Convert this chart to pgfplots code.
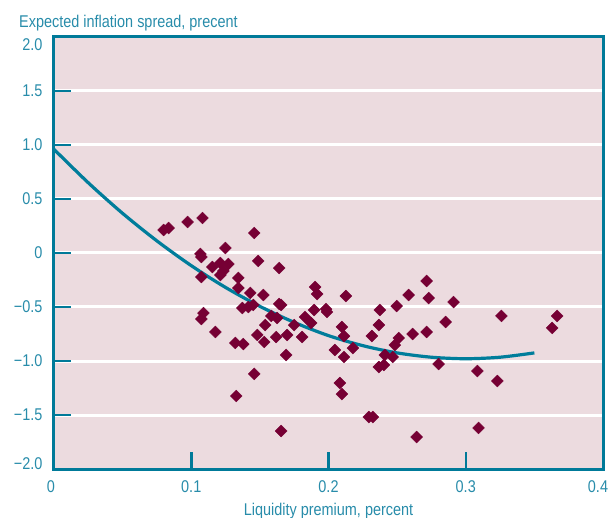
\documentclass[border=0pt]{standalone}
\usepackage{fontspec}
\setmainfont{Liberation Sans}[FakeStretch=0.85]
\usepackage{pgfplots}
\pgfplotsset{compat=1.18}
\definecolor{axisc}{RGB}{0,122,153}
\definecolor{textc}{RGB}{40,140,170}
\definecolor{curvec}{RGB}{0,125,155}
\definecolor{markc}{RGB}{118,0,52}
\definecolor{bgc}{RGB}{236,219,223}
\begin{document}
\begin{tikzpicture}
\begin{axis}[
  name=ax,
  scale only axis,
  width=549bp, height=432bp,
  xmin=0, xmax=0.4, ymin=-2, ymax=2,
  axis background/.style={fill=bgc},
  axis line style={line width=3bp, axisc},
  xtick={0,0.1,0.2,0.3,0.4},
  xticklabels={{0\hspace*{6bp}},0.1,0.2,0.3,{\hspace*{-10bp}0.4}},
  ytick={-2,-1.5,-1,-0.5,0,0.5,1,1.5,2},
  yticklabels={{\raisebox{0pt}[12.2bp][12bp]{−2.0}},−1.5,−1.0,−0.5,0,0.5,1.0,1.5,{\raisebox{0pt}[28bp][0pt]{2.0}}},
  xtick pos=bottom, ytick pos=left,
  tick align=inside,
  major tick length=17bp,
  tick style={line width=2.5bp, axisc},
  ymajorgrids,
  major grid style={line width=3bp, white},
  every tick label/.append style={font=\fontsize{17bp}{20bp}\selectfont, text=textc},
  yticklabel style={xshift=-8bp},
  xticklabel style={yshift=-8bp},
  clip=false,
]
\addplot[only marks, mark=square*, mark size=4.2bp, mark options={rotate=45, fill=markc, draw=markc}] coordinates {
(0.0799,0.213) (0.0835,0.231) (0.0973,0.287) (0.1082,0.324) (0.1459,0.185)
(0.1067,-0.009) (0.1074,-0.037) (0.1249,0.046) (0.1488,-0.074) (0.1641,-0.139)
(0.1154,-0.130) (0.1212,-0.093) (0.1270,-0.102) (0.1234,-0.167) (0.1212,-0.204)
(0.1074,-0.222) (0.1343,-0.231) (0.1343,-0.324) (0.1430,-0.370) (0.1525,-0.389)
(0.1372,-0.509) (0.1416,-0.500) (0.1452,-0.481) (0.1641,-0.472) (0.1655,-0.481)
(0.1902,-0.315) (0.1917,-0.380) (0.1895,-0.528) (0.1982,-0.519) (0.1989,-0.546)
(0.2127,-0.398) (0.1089,-0.556) (0.1074,-0.611) (0.1176,-0.731) (0.1321,-0.833)
(0.1379,-0.843) (0.1539,-0.667) (0.1481,-0.759) (0.1532,-0.824) (0.1619,-0.778)
(0.1699,-0.759) (0.1691,-0.944) (0.1808,-0.778) (0.1829,-0.593) (0.1873,-0.648)
(0.1750,-0.667) (0.1583,-0.583) (0.1626,-0.602) (0.2098,-0.685) (0.2113,-0.769)
(0.2047,-0.898) (0.2113,-0.963) (0.2083,-1.204) (0.2098,-1.306) (0.1459,-1.120)
(0.1328,-1.324) (0.1655,-1.648) (0.2178,-0.880) (0.2316,-0.769) (0.2294,-1.519)
(0.2323,-1.519) (0.2715,-0.259) (0.2584,-0.389) (0.2730,-0.417) (0.2911,-0.454)
(0.2374,-0.528) (0.2497,-0.491) (0.2367,-0.667) (0.2853,-0.639) (0.2613,-0.750)
(0.2715,-0.731) (0.2512,-0.787) (0.2483,-0.852) (0.2410,-0.944) (0.2468,-0.963)
(0.2367,-1.056) (0.2403,-1.037) (0.2802,-1.028) (0.3085,-1.093) (0.3230,-1.185)
(0.2642,-1.704) (0.3093,-1.620) (0.3260,-0.583) (0.3666,-0.583) (0.3630,-0.694)
};
\addplot[smooth, no marks, line width=3.2bp, curvec] coordinates {
(0,0.96) (0.025,0.650) (0.05,0.367) (0.075,0.112) (0.1,-0.117) (0.125,-0.319)
(0.15,-0.494) (0.175,-0.642) (0.2,-0.765) (0.225,-0.858) (0.25,-0.925)
(0.275,-0.965) (0.3,-0.979) (0.325,-0.965) (0.35,-0.925)
};
\end{axis}
\node[anchor=base west, inner sep=0, text=textc, font=\fontsize{17bp}{20bp}\selectfont] at ([xshift=-35bp, yshift=9bp]ax.north west) {Expected inflation spread, precent};
\node[anchor=base, inner sep=0, text=textc, font=\fontsize{17bp}{20bp}\selectfont] at ([yshift=-46bp]ax.south) {Liquidity premium, percent};
\pgfresetboundingbox
\path[use as bounding box] ([xshift=-54bp,yshift=-49bp]ax.south west) rectangle ([xshift=7bp,yshift=37bp]ax.north east);
\end{tikzpicture}
\end{document}
